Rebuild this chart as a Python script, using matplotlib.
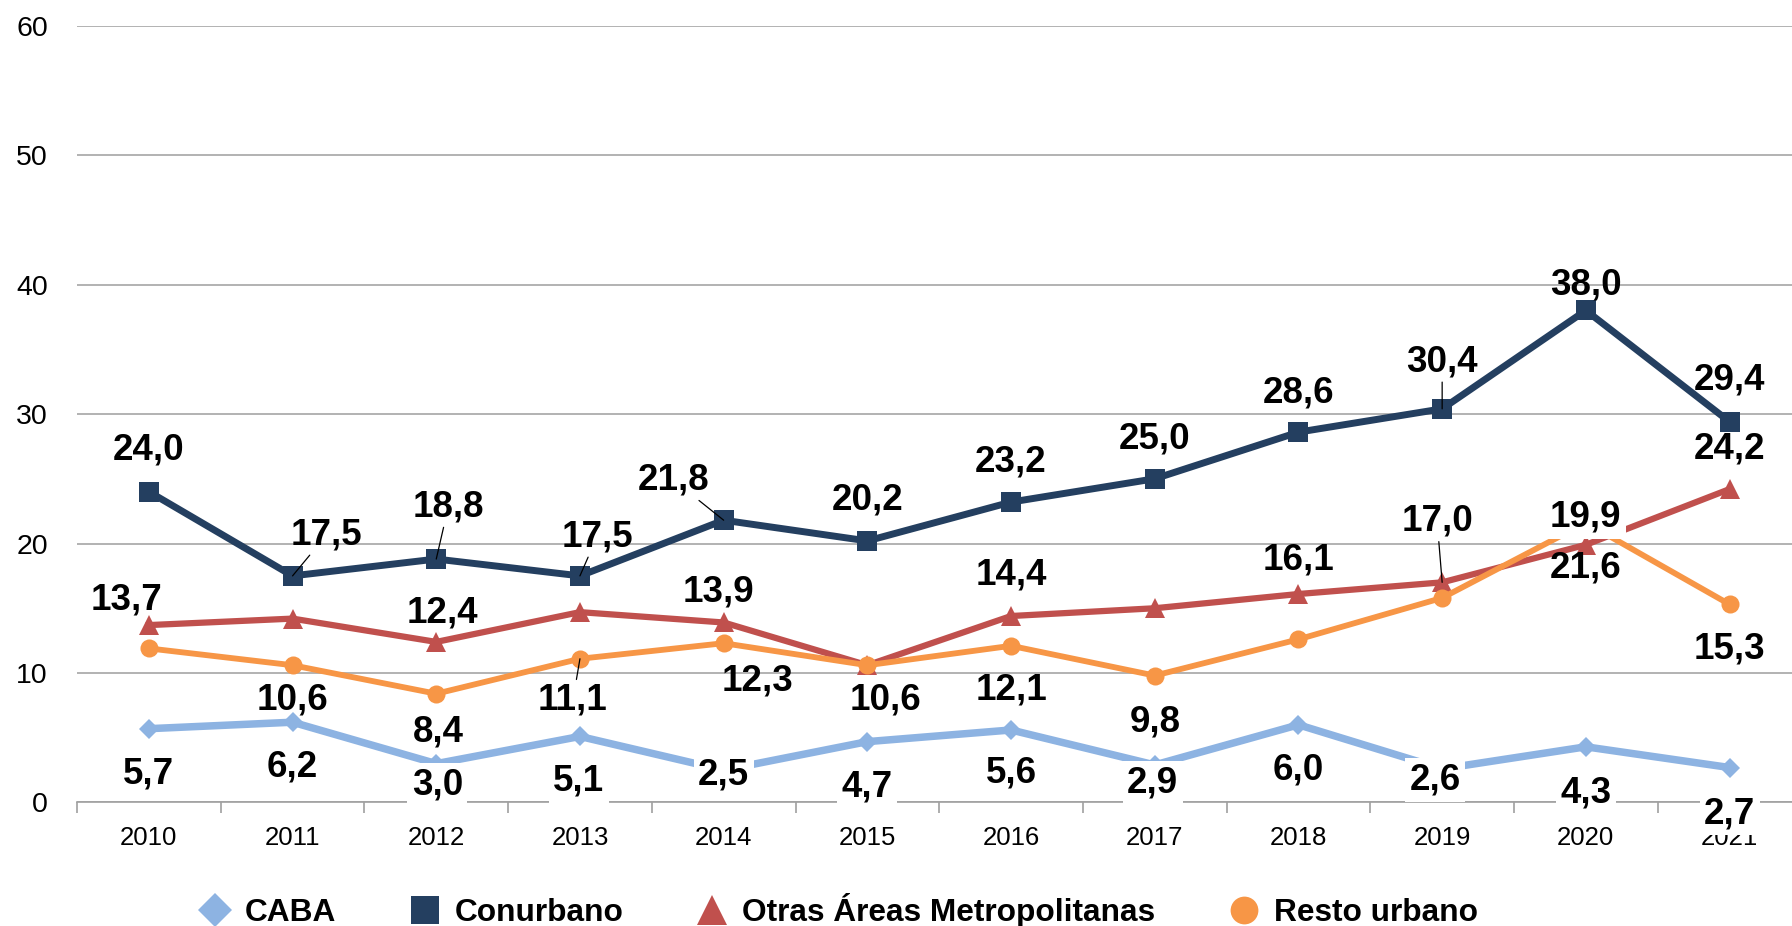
#!/usr/bin/env python3
"""Line chart: series by region type, 2010-2021, with value labels."""

import matplotlib
matplotlib.use('Agg')
import matplotlib.pyplot as plt
from matplotlib.lines import Line2D
import numpy as np

# ---- data ----
years = ['2010', '2011', '2012', '2013', '2014', '2015',
         '2016', '2017', '2018', '2019', '2020', '2021']
series_names = ['CABA', 'Conurbano', 'Otras Áreas Metropolitanas', 'Resto urbano']

caba      = [5.7, 6.2, 3.0, 5.1, 2.5, 4.7, 5.6, 2.9, 6.0, 2.6, 4.3, 2.7]
conurbano = [24.0, 17.5, 18.8, 17.5, 21.8, 20.2, 23.2, 25.0, 28.6, 30.4, 38.0, 29.4]
otras     = [13.7, 14.2, 12.4, 14.7, 13.9, 10.6, 14.4, 15.0, 16.1, 17.0, 19.9, 24.2]
resto     = [11.9, 10.6, 8.4, 11.1, 12.3, 10.6, 12.1, 9.8, 12.6, 15.8, 21.6, 15.3]

# which points carry a value label
caba_lab      = [1] * 12
conurbano_lab = [1] * 12
otras_lab     = [1, 0, 1, 0, 1, 0, 1, 0, 1, 1, 1, 1]
resto_lab     = [0, 1, 1, 1, 1, 1, 1, 1, 0, 0, 1, 1]

# ---- label placement (offset in pixels from the point) ----
caba_off = [(0, -45), (0, -45), (1, -21), (-1, -45), (0, -5), (0, -45),
            (0, -43), (-2, -18), (0, -45), (-7, -11), (0, -46), (0, -46)]
conurbano_off = [(0, 42), (34, 41), (12, 52), (17, 39), (-50, 40), (0, 41),
                 (0, 40), (0, 40), (0, 39), (0, 47), (0, 25), (0, 42)]
otras_off = [(-22, 25), None, (6, 29), None, (-5, 30), None,
             (0, 41), None, (0, 34), (-5, 61), (0, 28), (0, 40)]
resto_off = [None, (0, -35), (2, -38), (-7, -41), (34, -38), (18, -35),
             (0, -44), (0, -46), None, None, (0, -45), (0, -45)]
# labels drawn with a leader line back to the point
leaders = {('Conurbano', 1), ('Conurbano', 2), ('Conurbano', 3), ('Conurbano', 4),
           ('Conurbano', 9), ('Otras Áreas Metropolitanas', 9), ('Resto urbano', 3)}
# labels with a white box behind the text
boxed = {('Otras Áreas Metropolitanas', 10)} | {('CABA', i) for i in range(12)}

COLS = ['#8DB3E2', '#243F60', '#C0504D', '#F79646']
MARKERS = ['D', 's', '^', 'o']
MS = [10, 14.5, 15, 13]
LW = [5.4, 5.0, 4.5, 4.2]
LEG_MS = [17, 20, 22, 20]

plt.rcParams.update({'font.family': ['Liberation Sans', 'DejaVu Sans'],
                     'figure.facecolor': 'white'})

fig = plt.figure(figsize=(17.92, 9.26), dpi=100)
ax = fig.add_axes([0.04297, 0.13337, 0.96228, 0.83909])

x = np.arange(len(years))
all_vals = [caba, conurbano, otras, resto]
all_labs = [caba_lab, conurbano_lab, otras_lab, resto_lab]
all_offs = [caba_off, conurbano_off, otras_off, resto_off]

for name, vals, col, mk, ms, lw in zip(series_names, all_vals, COLS, MARKERS, MS, LW):
    ax.plot(x, vals, color=col, lw=lw, marker=mk, ms=ms,
            markeredgewidth=0, solid_joinstyle='miter', zorder=3)

# value labels with comma decimals
for name, vals, labs, offs in zip(series_names, all_vals, all_labs, all_offs):
    for i, (v, show, off) in enumerate(zip(vals, labs, offs)):
        if not show:
            continue
        txt = f'{v:.1f}'.replace('.', ',')
        kw = {}
        if (name, i) in leaders:
            kw['arrowprops'] = dict(arrowstyle='-', color='black', lw=0.9,
                                    shrinkA=0, shrinkB=0)
        if (name, i) in boxed:
            kw['bbox'] = dict(boxstyle='square,pad=0.12', fc='white', ec='none')
        ax.annotate(txt, (x[i], v), xytext=off, textcoords='offset pixels',
                    ha='center', va='center', fontsize=26.5, fontweight='bold',
                    zorder=6, annotation_clip=False, **kw)

# ---- axes styling ----
ax.set_xlim(-0.5, 11.5)
ax.set_ylim(0, 60)
ax.set_yticks(range(0, 61, 10))
ax.tick_params(axis='y', length=0, pad=21, labelsize=20.5)
ax.set_xticks(x)
ax.set_xticklabels(years)
ax.set_xticks(np.arange(-0.5, 11.6, 1), minor=True)
ax.tick_params(axis='x', which='major', length=0, pad=17, labelsize=18.5)
ax.tick_params(axis='x', which='minor', length=8, width=1.2, color='#A0A0A0')
ax.grid(axis='y', color='#A6A6A6', lw=1.2)
ax.set_axisbelow(True)
for s in ('left', 'right', 'top'):
    ax.spines[s].set_visible(False)
ax.spines['bottom'].set_color('#A0A0A0')
ax.spines['bottom'].set_linewidth(1.2)

# ---- legend ----
handles = [Line2D([], [], ls='none', marker=mk, ms=ms, color=col, markeredgewidth=0)
           for mk, ms, col in zip(MARKERS, LEG_MS, COLS)]
fig.legend(handles, series_names, loc='center', bbox_to_anchor=(0.4678, 0.0165),
           ncol=4, frameon=False, handlelength=1.0, handletextpad=0.44,
           columnspacing=2.31, prop={'size': 22.8, 'weight': 'bold'})

fig.savefig('out.png', dpi=100)
